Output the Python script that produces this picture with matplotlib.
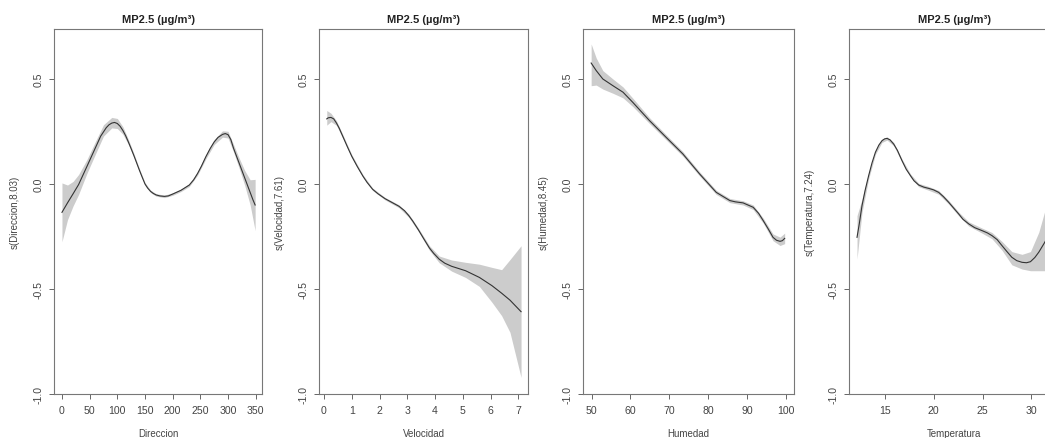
import matplotlib
matplotlib.use("Agg")
import matplotlib.pyplot as plt

plt.rcParams['font.family'] = ['Liberation Sans', 'DejaVu Sans']

titulo = "MP2.5 (µg/m³)"

# Direccion: curva estimada
dir_x = [0, 10, 20, 30, 45, 60, 70, 80, 85, 90, 95, 100, 105, 110, 115, 120, 125, 130,
         135, 140, 145, 150, 155, 160, 165, 170, 177, 185, 192, 200, 215, 230, 238, 245,
         252, 260, 268, 275, 282, 290, 295, 300, 305, 310, 315, 320, 325, 330, 335, 340,
         345, 349]
dir_fit = [-0.135, -0.09, -0.047, -0.003, 0.083, 0.17, 0.228, 0.268, 0.282, 0.29, 0.293,
           0.288, 0.275, 0.255, 0.23, 0.2, 0.168, 0.135, 0.1, 0.065, 0.032, 0.0, -0.02,
           -0.035, -0.045, -0.052, -0.057, -0.059, -0.057, -0.048, -0.03, -0.005, 0.02,
           0.05, 0.085, 0.13, 0.17, 0.2, 0.222, 0.236, 0.24, 0.235, 0.212, 0.17, 0.135,
           0.1, 0.065, 0.03, -0.005, -0.04, -0.075, -0.1]
# Direccion: banda de confianza
dirb_x = [0, 10, 20, 30, 45, 60, 75, 90, 100, 110, 120, 130, 140, 150, 160, 170, 185,
          200, 215, 230, 245, 260, 275, 290, 300, 310, 320, 330, 340, 349]
dir_lo = [-0.275, -0.17, -0.105, -0.05, 0.05, 0.14, 0.228, 0.267, 0.264, 0.237, 0.188,
          0.125, 0.057, -0.007, -0.041, -0.058, -0.065, -0.054, -0.036, -0.012, 0.042, 0.12,
          0.188, 0.223, 0.219, 0.152, 0.076, -0.005, -0.1, -0.222]
dir_hi = [0.005, -0.005, 0.012, 0.045, 0.116, 0.2, 0.282, 0.317, 0.312, 0.273, 0.212,
          0.145, 0.073, 0.007, -0.029, -0.046, -0.053, -0.042, -0.024, 0.002, 0.058, 0.14,
          0.212, 0.253, 0.251, 0.188, 0.124, 0.065, 0.02, 0.022]

# Velocidad
vel_x = [0.1, 0.15, 0.25, 0.35, 0.45, 0.55, 0.7, 0.85, 1.0, 1.2, 1.4, 1.55, 1.75, 1.95,
         2.2, 2.45, 2.7, 2.9, 3.05, 3.2, 3.4, 3.6, 3.8, 3.95, 4.15, 4.35, 4.6, 5.1, 5.6,
         6.05, 6.4, 6.7, 7.1]
vel_fit = [0.31, 0.315, 0.317, 0.31, 0.29, 0.265, 0.22, 0.175, 0.132, 0.083, 0.038, 0.008,
           -0.025, -0.047, -0.07, -0.088, -0.106, -0.127, -0.15, -0.177, -0.218, -0.262,
           -0.305, -0.33, -0.358, -0.377, -0.392, -0.413, -0.445, -0.484, -0.52, -0.553,
           -0.608]
velb_x = [0.1, 0.25, 0.45, 0.7, 1.0, 1.4, 1.75, 2.2, 2.7, 3.05, 3.4, 3.8, 4.15, 4.6,
          5.1, 5.6, 6.05, 6.4, 6.7, 7.1]
vel_lo = [0.28, 0.297, 0.279, 0.211, 0.124, 0.031, -0.031, -0.076, -0.113, -0.158, -0.226,
          -0.316, -0.375, -0.415, -0.445, -0.488, -0.563, -0.627, -0.706, -0.921]
vel_hi = [0.35, 0.337, 0.301, 0.229, 0.14, 0.045, -0.019, -0.064, -0.099, -0.142, -0.21,
          -0.294, -0.343, -0.362, -0.373, -0.382, -0.397, -0.408, -0.36, -0.294]

# Humedad
hum_x = [49.9, 51.2, 52.9, 55.5, 58.1, 60.6, 64.9, 69.2, 73.5, 77.8, 82.1, 85.6, 87.0,
         89.0, 91.6, 93.0, 94.2, 95.5, 96.7, 97.6, 98.5, 99.1, 99.7]
hum_fit = [0.576, 0.54, 0.5, 0.468, 0.437, 0.389, 0.302, 0.222, 0.143, 0.048, -0.04,
           -0.079, -0.085, -0.09, -0.111, -0.14, -0.175, -0.215, -0.254, -0.268, -0.273,
           -0.27, -0.259]
humb_x = [49.9, 51.2, 52.9, 55.5, 58.1, 60.6, 64.9, 69.2, 73.5, 77.8, 82.1, 85.6, 89.0,
          91.6, 94.2, 96.7, 98.5, 99.7]
hum_lo = [0.468, 0.471, 0.452, 0.432, 0.41, 0.369, 0.288, 0.21, 0.132, 0.038, -0.05,
          -0.089, -0.1, -0.122, -0.187, -0.27, -0.293, -0.284]
hum_hi = [0.667, 0.6, 0.54, 0.5, 0.462, 0.409, 0.316, 0.234, 0.154, 0.058, -0.03,
          -0.069, -0.08, -0.1, -0.163, -0.238, -0.253, -0.234]

# Temperatura
tem_x = [12.17, 12.4, 12.68, 13.0, 13.36, 13.7, 14.05, 14.4, 14.72, 15.0, 15.24, 15.55,
         15.92, 16.3, 16.77, 17.2, 17.63, 18.0, 18.48, 19.0, 19.5, 20.0, 20.52, 21.0,
         21.54, 22.0, 22.57, 23.0, 23.59, 24.2, 24.95, 25.5, 25.97, 26.5, 27.0, 27.5,
         28.0, 28.5, 29.04, 29.5, 29.9, 30.35, 30.75, 31.36, 32.0]
tem_fit = [-0.254, -0.19, -0.103, -0.03, 0.04, 0.1, 0.151, 0.185, 0.206, 0.215, 0.217,
           0.21, 0.19, 0.16, 0.111, 0.07, 0.04, 0.015, -0.005, -0.015, -0.021, -0.028,
           -0.04, -0.06, -0.087, -0.112, -0.143, -0.168, -0.19, -0.208, -0.222, -0.233,
           -0.246, -0.265, -0.294, -0.322, -0.349, -0.365, -0.373, -0.375, -0.37, -0.35,
           -0.325, -0.278, -0.22]
temb_x = [12.17, 12.68, 13.36, 14.05, 14.72, 15.24, 15.92, 16.77, 17.63, 18.48, 19.5,
          20.52, 21.54, 22.57, 23.59, 24.95, 25.97, 27.0, 28.0, 29.04, 29.9, 30.75,
          31.36, 32.0]
tem_lo = [-0.357, -0.135, 0.025, 0.141, 0.198, 0.209, 0.182, 0.103, 0.032, -0.013, -0.03,
          -0.049, -0.096, -0.152, -0.2, -0.234, -0.261, -0.316, -0.385, -0.405, -0.413,
          -0.413, -0.413, -0.41]
tem_hi = [-0.151, -0.072, 0.055, 0.161, 0.214, 0.225, 0.198, 0.119, 0.048, 0.003, -0.012,
          -0.031, -0.078, -0.134, -0.18, -0.21, -0.231, -0.274, -0.322, -0.335, -0.322,
          -0.23, -0.13, 0.0]

paneles = [
    (dir_x, dir_fit, dirb_x, dir_lo, dir_hi, "Direccion", "s(Direccion,8.03)",
     (-14.4, 361.4), [0, 50, 100, 150, 200, 250, 300, 350]),
    (vel_x, vel_fit, velb_x, vel_lo, vel_hi, "Velocidad", "s(Velocidad,7.61)",
     (-0.18, 7.35), [0, 1, 2, 3, 4, 5, 6, 7]),
    (hum_x, hum_fit, humb_x, hum_lo, hum_hi, "Humedad", "s(Humedad,8.45)",
     (47.8, 102.1), [50, 60, 70, 80, 90, 100]),
    (tem_x, tem_fit, temb_x, tem_lo, tem_hi, "Temperatura", "s(Temperatura,7.24)",
     (11.35, 32.82), [15, 20, 25, 30]),
]

W, H = 1045, 439
izq = [54, 319, 583, 849]
ancho = [208, 209, 211, 210]
abajo, arriba = 395, 30

fig = plt.figure(figsize=(W / 100, H / 100), dpi=100)
gris_txt = '#444444'

for i, (x, fit, bx, lo, hi, xlab, ylab, xlim, xt) in enumerate(paneles):
    ax = fig.add_axes([izq[i] / W, (H - abajo) / H, ancho[i] / W, (abajo - arriba) / H])
    ax.fill_between(bx, lo, hi, color='#cccccc', linewidth=0)
    ax.plot(x, fit, color='#333333', linewidth=0.8)
    ax.set_xlim(*xlim)
    ax.set_ylim(-1.0, 0.738)
    ax.set_xticks(xt)
    ax.set_yticks([-1.0, -0.5, 0.0, 0.5])
    ax.set_yticklabels(['-1.0', '-0.5', '0.0', '0.5'], rotation=90, va='center')
    ax.tick_params(direction='out', length=3.6, width=0.7, color='#666666',
                   labelsize=7.6, labelcolor=gris_txt, pad=4.2)
    for s in ax.spines.values():
        s.set_color('#777777')
        s.set_linewidth(0.8)
    ax.set_xlabel(xlab, fontsize=7, color=gris_txt)
    ax.set_ylabel(ylab, fontsize=7, color=gris_txt)
    ax.xaxis.set_label_coords(0.5, -(429 - abajo) / (abajo - arriba))
    ax.yaxis.set_label_coords(-34 / ancho[i], 0.5)
    ax.text(0.5, 1 + 10 / (abajo - arriba), titulo, transform=ax.transAxes,
            ha='center', va='center', fontsize=8, fontweight='bold', color='#222222')

fig.savefig('out.png', dpi=100)
